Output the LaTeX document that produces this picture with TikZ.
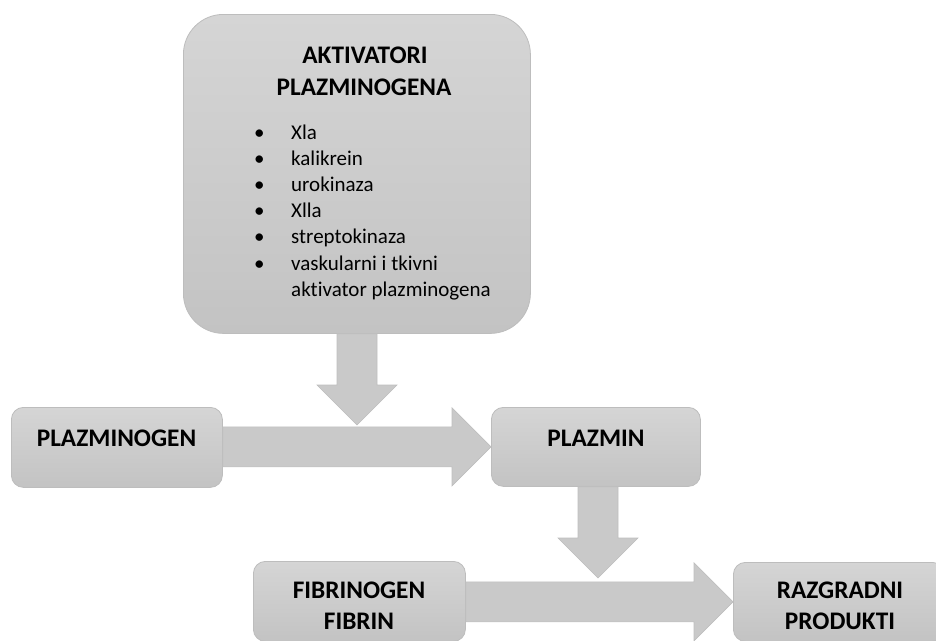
\documentclass[tikz,border=0pt]{standalone}
\usepackage{fontspec}
\setmainfont{Carlito}[Ligatures=NoCommon]
\usetikzlibrary{calc}
\definecolor{boxtop}{HTML}{D5D5D5}
\definecolor{boxbot}{HTML}{C3C3C3}
\definecolor{boxline}{HTML}{BDBDBD}
\definecolor{arrfill}{HTML}{C9C9C9}
\definecolor{arrline}{HTML}{BEBEBE}
\tikzset{
  box/.style={draw=boxline, line width=0.8pt, top color=boxtop, bottom color=boxbot,
    rounded corners=12pt, inner sep=0pt, anchor=north west},
  title/.style={font=\bfseries\fontsize{25.3}{32}\selectfont, anchor=base, inner sep=0pt},
  blockarrow/.style={fill=arrfill, draw=arrline, line width=0.6pt},
}
\newcommand{\myvarrow}[2]{%
  \draw[blockarrow] let \p1=(#1), \p2=(#2) in
    (\x2-20pt,\y1) -- (\x2-20pt,\y2+40pt) -- (\x2-40pt,\y2+40pt) -- (\x2,\y2)
    -- (\x2+40pt,\y2+40pt) -- (\x2+20pt,\y2+40pt) -- (\x2+20pt,\y1) -- cycle;}
\newcommand{\myharrow}[2]{%
  \draw[blockarrow] let \p1=(#1), \p2=(#2) in
    (\x1,\y2+20pt) -- (\x2-39pt,\y2+20pt) -- (\x2-39pt,\y2+39pt) -- (\x2,\y2)
    -- (\x2-39pt,\y2-39pt) -- (\x2-39pt,\y2-20pt) -- (\x1,\y2-20pt) -- cycle;}
\begin{document}
\begin{tikzpicture}[x=1pt,y=-1pt]
\useasboundingbox (0,0) rectangle (936,640);
% boxes
\node[box, rounded corners=40pt, minimum width=347pt, minimum height=319pt] (akt) at (183,14) {};
\node[box, minimum width=211pt, minimum height=80pt] (plg) at (11,407) {};
\node[box, minimum width=209pt, minimum height=79pt] (plz) at (491,407) {};
\node[box, minimum width=212pt, minimum height=80pt] (fib) at (253,561) {};
\node[box, minimum width=211pt, minimum height=79pt] (raz) at (733,562) {};
\coordinate (tip1) at (357,425);
\coordinate (tip2) at (598,578);
% block arrows
\myvarrow{akt.south}{tip1}
\myharrow{plg.east}{plz.west}
\myvarrow{plz.south}{tip2}
\myharrow{fib.east}{raz.west}
% texts
\node[title] (aktt1) at (365,63) {AKTIVATORI};
\node[title] (aktt2) at (364,95) {PLAZMINOGENA};
\node[anchor=base west, inner sep=0pt, font=\fontsize{21}{26.2}\selectfont] (list) at (254,139)
  {\begin{tabular}[t]{@{}p{37pt}@{}l@{}}
   \textbullet & Xla\\
   \textbullet & kalikrein\\
   \textbullet & urokinaza\\
   \textbullet & Xlla\\
   \textbullet & streptokinaza\\
   \textbullet & vaskularni i tkivni\\
               & aktivator plazminogena
   \end{tabular}};
\node[title] (plgt) at (116.5,446) {PLAZMINOGEN};
\node[title] (plzt) at (596,446) {PLAZMIN};
\node[title] (fibt1) at (359,598) {FIBRINOGEN};
\node[title] (fibt2) at (359,629) {FIBRIN};
\node[title] (razt1) at (840,598) {RAZGRADNI};
\node[title] (razt2) at (840,629) {PRODUKTI};
\end{tikzpicture}
\end{document}
